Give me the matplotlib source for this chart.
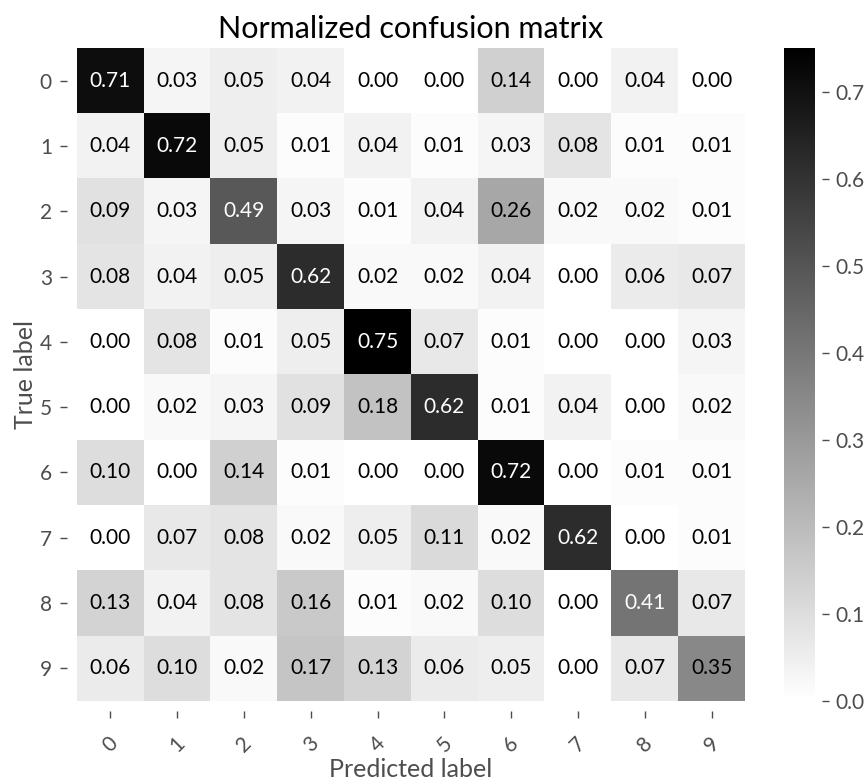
import numpy as np
import matplotlib
matplotlib.use("Agg")
import matplotlib.pyplot as plt

classes = ["0", "1", "2", "3", "4", "5", "6", "7", "8", "9"]
row0 = [0.71, 0.03, 0.05, 0.04, 0.00, 0.00, 0.14, 0.00, 0.04, 0.00]
row1 = [0.04, 0.72, 0.05, 0.01, 0.04, 0.01, 0.03, 0.08, 0.01, 0.01]
row2 = [0.09, 0.03, 0.49, 0.03, 0.01, 0.04, 0.26, 0.02, 0.02, 0.01]
row3 = [0.08, 0.04, 0.05, 0.62, 0.02, 0.02, 0.04, 0.00, 0.06, 0.07]
row4 = [0.00, 0.08, 0.01, 0.05, 0.75, 0.07, 0.01, 0.00, 0.00, 0.03]
row5 = [0.00, 0.02, 0.03, 0.09, 0.18, 0.62, 0.01, 0.04, 0.00, 0.02]
row6 = [0.10, 0.00, 0.14, 0.01, 0.00, 0.00, 0.72, 0.00, 0.01, 0.01]
row7 = [0.00, 0.07, 0.08, 0.02, 0.05, 0.11, 0.02, 0.62, 0.00, 0.01]
row8 = [0.13, 0.04, 0.08, 0.16, 0.01, 0.02, 0.10, 0.00, 0.41, 0.07]
row9 = [0.06, 0.10, 0.02, 0.17, 0.13, 0.06, 0.05, 0.00, 0.07, 0.35]
cbar_ticks = [0.0, 0.1, 0.2, 0.3, 0.4, 0.5, 0.6, 0.7]

cm = np.array([row0, row1, row2, row3, row4, row5, row6, row7, row8, row9])

plt.rcParams["font.family"] = ["Lato", "DejaVu Sans"]
GREY = "#4d4d4d"

fig = plt.figure(figsize=(8.67, 7.81), dpi=100)
ax = fig.add_axes([0.0888, 0.1024, 0.7704, 0.8361])
cax = fig.add_axes([0.904, 0.1024, 0.036, 0.8361])

im = ax.imshow(cm, cmap="gray_r", vmin=0, vmax=cm.max(), aspect="auto",
               interpolation="nearest")
ax.set_title("Normalized confusion matrix", fontsize=22, pad=7)

thresh = cm.max() / 2.0
for i in range(cm.shape[0]):
    for j in range(cm.shape[1]):
        ax.text(j, i, format(cm[i, j], ".2f"), ha="center", va="center",
                fontsize=15, color="white" if cm[i, j] > thresh else "black")

# spines hidden, ticks pushed out a little (set before labels: it resets ticks)
for s in ax.spines.values():
    s.set_visible(False)
ax.spines["bottom"].set_position(("outward", 7))
ax.spines["left"].set_position(("outward", 7))

ax.set_xticks(np.arange(len(classes)))
ax.set_yticks(np.arange(len(classes)))
ax.set_xticklabels(classes, rotation=45)
ax.set_yticklabels(classes)
ax.tick_params(axis="both", colors=GREY, labelsize=15, length=5, width=1,
               direction="out", pad=6)
ax.tick_params(axis="x", pad=11)
ax.set_xlabel("Predicted label", fontsize=18, color=GREY, labelpad=2)
ax.set_ylabel("True label", fontsize=18, color=GREY, labelpad=2)

cb = fig.colorbar(im, cax=cax, ticks=cbar_ticks)
cb.outline.set_visible(False)
cax.spines["right"].set_position(("outward", 5))
cax.set_yticks(cbar_ticks)
cax.set_yticklabels([f"{t:.1f}" for t in cbar_ticks])
cax.tick_params(colors=GREY, labelsize=15, length=5, width=1, pad=5)

fig.savefig("out.png", dpi=100)
